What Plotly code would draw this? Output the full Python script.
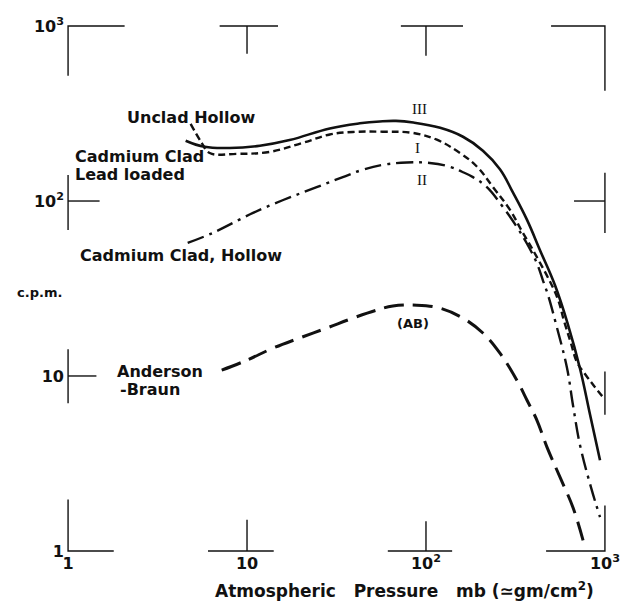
import plotly.graph_objects as go

# ---- data (pressure mb, counts per minute) ----
# Curve I: Unclad Hollow (short dashes)
p_I = [4.84, 5.58, 6.19, 8.75, 13.4, 20.5, 29.0, 39.0, 57.4, 84.6, 115, 155, 193, 237, 295, 348, 396, 540, 591, 646, 698, 783, 880, 976]
c_I = [276, 215, 188, 186, 191, 215, 240, 248, 249, 245, 224, 188, 157, 120, 88.9, 65.7, 52.5, 28.3, 20.6, 15.4, 12.0, 10.1, 8.63, 7.57]

# Curve II: Cadmium Clad, Hollow (dash-dot)
p_II = [4.66, 6.43, 10.8, 15.8, 24.5, 34.3, 44.4, 57.4, 78.2, 105, 136, 159, 183, 219, 269, 322, 367, 417, 451, 481, 540, 614, 663, 726, 836, 939]
c_II = [57.6, 65.7, 85.5, 101, 120, 137, 151, 161, 166, 165, 157, 147, 137, 120, 92.5, 71.1, 57.0, 44.0, 35.0, 29.0, 18.8, 11.1, 6.81, 4.02, 2.31, 1.56]

# Curve III: Cadmium Clad Lead loaded (solid)
p_III = [4.54, 5.80, 8.0, 11.8, 17.3, 29.0, 42.7, 55.2, 68.0, 85.0, 120, 161, 208, 259, 306, 367, 433, 526, 622, 726, 826, 939]
c_III = [221, 204, 201, 207, 223, 260, 278, 285, 287, 281, 262, 233, 194, 152, 112, 78.0, 52.5, 33.0, 19.6, 11.0, 6.0, 3.3]

# Anderson-Braun (AB) (long dashes)
p_AB = [7.22, 9.96, 13.9, 19.7, 27.9, 39.0, 53.1, 65.3, 89.0, 120, 161, 208, 259, 322, 367, 417, 475, 561, 663, 755]
c_AB = [10.8, 12.3, 14.4, 16.5, 18.8, 21.4, 23.8, 25.1, 25.4, 24.4, 21.4, 17.6, 13.5, 9.46, 7.27, 5.58, 3.91, 2.64, 1.77, 1.15]

tick_vals = [1, 10, 100, 1000]
tick_text = ["1", "10", "10<sup>2</sup>", "10<sup>3</sup>"]

# frame corner / tick marks (data units)
frame_marks = [
    ([1, 1, 2.07], [520, 1000, 1000]),
    ([7.03, 14.9], [1000, 1000]), ([10, 10], [1000, 695]),
    ([72.4, 161], [1000, 1000]), ([100, 100], [1000, 677]),
    ([500, 1000, 1000], [1000, 1000, 427]),
    ([1000, 1000], [145, 65.7]), ([672, 1000], [100, 100]),
    ([1000, 1000], [10.6, 6.0]),
    ([1, 1.5], [100, 100]), ([1, 1], [141, 68.3]),
    ([1, 1.44], [10, 10]), ([1, 1], [14.2, 6.99]),
    ([1, 1, 1.8], [1.97, 1, 1]),
    ([10, 10], [1, 1.51]), ([6.05, 14.1], [1, 1]),
    ([100, 100], [1, 1.48]), ([61.2, 140], [1, 1]),
    ([1000, 1000, 469], [1.82, 1, 1]),
]

FONT = "DejaVu Sans"
INK = "#111111"

fig = go.Figure()

for fx, fy in frame_marks:
    fig.add_trace(go.Scatter(x=fx, y=fy, mode="lines",
                             line=dict(color=INK, width=1.4),
                             hoverinfo="skip", showlegend=False))

fig.add_trace(go.Scatter(x=p_III, y=c_III, mode="lines", name="III",
                         line=dict(color=INK, width=2.6, shape="spline", smoothing=1.2)))
fig.add_trace(go.Scatter(x=p_I, y=c_I, mode="lines", name="I",
                         line=dict(color=INK, width=2.4, dash="7px,4px", shape="spline", smoothing=1.1)))
fig.add_trace(go.Scatter(x=p_II, y=c_II, mode="lines", name="II",
                         line=dict(color=INK, width=2.4, dash="17px,6px,3px,6px", shape="spline", smoothing=1.1)))
fig.add_trace(go.Scatter(x=p_AB, y=c_AB, mode="lines", name="AB",
                         line=dict(color=INK, width=3, dash="20px,9px", shape="spline", smoothing=1.1)))

def ann(text, x, y, size=16, anchor="center", family=FONT, weight="bold", ref="data"):
    xr, yr = ("x", "y") if ref == "data" else ("paper", "paper")
    fig.add_annotation(x=x, y=y, xref=xr, yref=yr, text=text, showarrow=False,
                       xanchor=anchor, yanchor="middle",
                       font=dict(family=family, size=size, color=INK, weight=weight))

# positions of in-plot labels are given in log10 units (log axes)
ann("Unclad Hollow", 0.688, 2.476)
ann("Cadmium Clad", 0.025, 2.252, anchor="left")
ann("Lead loaded", 0.025, 2.149, anchor="left")
ann("Cadmium Clad, Hollow", 0.053, 1.691, anchor="left")
ann("Anderson", 0.260, 1.027, anchor="left")
ann("-Braun", 0.277, 0.924, anchor="left")
ann("III", 1.966, 2.527, size=15, family="Liberation Serif", weight="normal")
ann("I", 1.955, 2.304, size=15, family="Liberation Serif", weight="normal")
ann("II", 1.977, 2.121, size=15, family="Liberation Serif", weight="normal")
ann("(AB)", 1.927, 1.302, size=13)
# axis titles (paper coordinates)
ann("c.p.m.", -0.051, 0.493, size=13, ref="paper")
ann("Atmospheric\u00a0\u00a0 Pressure\u00a0\u00a0 mb (\u2243gm/cm<sup>2</sup>)", 0.627, -0.072, size=17, ref="paper")

axis_common = dict(type="log", showgrid=False, zeroline=False, showline=False,
                   ticks="", tickvals=tick_vals, ticktext=tick_text,
                   tickfont=dict(family=FONT, size=16, color=INK, weight="bold"))

fig.update_xaxes(range=[-0.006, 3.006], **axis_common)
fig.update_yaxes(range=[-0.006, 3.006], ticklabelstandoff=2, **axis_common)

fig.update_layout(width=635, height=605,
                  margin=dict(l=67, r=29, t=25, b=53),
                  paper_bgcolor="white", plot_bgcolor="white",
                  showlegend=False)

fig.write_html("out.html")
